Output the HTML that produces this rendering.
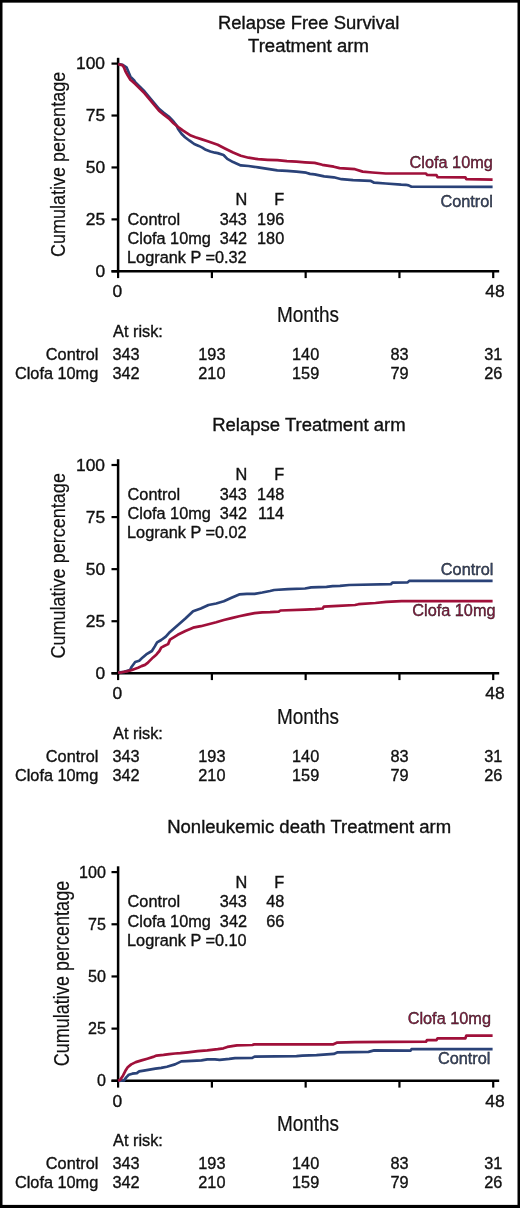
<!DOCTYPE html>
<html><head><meta charset="utf-8"><style>
html,body{margin:0;padding:0;background:#fff;}
svg{display:block;will-change:transform;}
svg{font-family:"Liberation Sans",sans-serif;fill:#111;}
text{stroke:#111;stroke-width:0.35px;}
.thin text{stroke-width:0.2px;}
</style></head><body>
<svg width="520" height="1208" viewBox="0 0 520 1208">
<rect x="0" y="0" width="520" height="1208" fill="#fff"/>
<text transform="translate(217.98 29.20) scale(1.0305 1)" font-size="17.90" fill="#111" stroke="#111">Relapse Free Survival</text>
<text transform="translate(248.08 51.80) scale(1.0352 1)" font-size="17.90" fill="#111" stroke="#111">Treatment arm</text>
<g class="thin"><text transform="translate(65.00 257.10) rotate(-90) scale(0.8718 1)" font-size="20.69">Cumulative percentage</text></g>
<path d="M118.10 57.80V272.50" stroke="#000" stroke-width="2.5" fill="none"/>
<path d="M111.5 271.30H499.2" stroke="#000" stroke-width="2.4" fill="none"/>
<path d="M111.5 271.30H118.10" stroke="#000" stroke-width="2.2"/>
<text transform="translate(95.38 276.95) scale(1.0500 1)" font-size="16.60" fill="#111" stroke="#111">0</text>
<path d="M111.5 219.38H118.10" stroke="#000" stroke-width="2.2"/>
<text transform="translate(85.75 225.03) scale(1.0500 1)" font-size="16.60" fill="#111" stroke="#111">25</text>
<path d="M111.5 167.45H118.10" stroke="#000" stroke-width="2.2"/>
<text transform="translate(85.71 173.10) scale(1.0500 1)" font-size="16.60" fill="#111" stroke="#111">50</text>
<path d="M111.5 115.53H118.10" stroke="#000" stroke-width="2.2"/>
<text transform="translate(85.75 121.18) scale(1.0500 1)" font-size="16.60" fill="#111" stroke="#111">75</text>
<path d="M111.5 63.60H118.10" stroke="#000" stroke-width="2.2"/>
<text transform="translate(75.99 69.25) scale(1.0500 1)" font-size="16.60" fill="#111" stroke="#111">100</text>
<path d="M118.10 271.30V278.10" stroke="#000" stroke-width="2.2"/>
<path d="M211.88 271.30V278.10" stroke="#000" stroke-width="2.2"/>
<path d="M305.66 271.30V278.10" stroke="#000" stroke-width="2.2"/>
<path d="M399.44 271.30V278.10" stroke="#000" stroke-width="2.2"/>
<path d="M493.22 271.30V278.10" stroke="#000" stroke-width="2.2"/>
<text transform="translate(112.54 297.20) scale(1.0500 1)" font-size="16.60" fill="#111" stroke="#111">0</text>
<text transform="translate(485.30 297.20) scale(1.0500 1)" font-size="16.60" fill="#111" stroke="#111">48</text>
<g class="thin"><text transform="translate(276.93 321.50) scale(0.8932 1)" font-size="21.24" fill="#111" stroke="#111">Months</text></g>
<path d="M118.1 64.0 L122.7 64.9 L126.5 67.3 L130.4 76.6 L134.2 80.4 L135.0 81.9 L139.8 86.7 L144.6 91.5 L149.4 97.3 L154.2 103.0 L159.0 108.8 L163.8 112.7 L168.7 116.5 L173.5 121.5 L176.5 125.4 L178.1 129.0 L181.5 133.7 L185.0 137.2 L189.6 140.7 L194.2 144.0 L198.8 145.9 L202.3 147.6 L205.8 149.8 L210.4 151.5 L215.0 152.7 L217.7 153.1 L223.5 155.0 L227.3 158.9 L233.1 162.1 L240.8 165.4 L248.5 166.0 L258.1 167.3 L267.7 168.9 L277.3 170.4 L286.9 170.8 L296.5 171.7 L306.2 172.7 L310.0 173.9 L314.6 174.4 L324.2 176.4 L333.8 177.3 L341.5 179.2 L353.1 180.2 L370.4 180.8 L374.2 182.7 L385.8 183.5 L401.2 184.6 L405.8 184.8 L408.7 185.4 L411.5 186.7 L492.6 186.9" stroke="#2a4278" stroke-width="2.7" fill="none" stroke-linejoin="round" stroke-linecap="butt"/>
<path d="M118.1 64.0 L122.7 65.4 L124.1 67.8 L125.6 71.7 L127.5 75.0 L130.4 79.8 L133.3 82.2 L135.0 83.8 L139.8 88.6 L144.6 93.4 L149.4 99.2 L154.2 104.9 L159.0 110.7 L163.8 114.6 L168.7 118.4 L173.5 123.2 L178.3 127.1 L183.1 130.6 L186.2 132.7 L190.8 135.6 L195.4 137.3 L201.2 139.1 L206.9 141.0 L212.7 143.1 L217.7 144.8 L225.4 148.7 L233.1 152.5 L240.8 155.8 L248.5 157.7 L258.1 159.2 L267.7 159.8 L277.3 160.2 L286.9 161.2 L296.5 161.7 L305.0 162.3 L314.6 162.9 L322.3 164.8 L333.8 166.7 L339.6 168.1 L355.0 169.2 L362.7 171.6 L372.3 172.5 L385.8 173.5 L400.0 173.5 L426.0 173.5 L426.9 174.8 L436.5 175.2 L437.5 177.1 L465.4 177.3 L466.3 179.2 L492.6 179.6" stroke="#a0103a" stroke-width="2.7" fill="none" stroke-linejoin="round" stroke-linecap="butt"/>
<text transform="translate(235.47 204.90) scale(1.0250 1)" font-size="15.90" fill="#111" stroke="#111">N</text>
<text transform="translate(274.31 204.90) scale(1.0250 1)" font-size="15.90" fill="#111" stroke="#111">F</text>
<text transform="translate(127.59 224.50) scale(1.0250 1)" font-size="15.90" fill="#111" stroke="#111">Control</text>
<text transform="translate(127.59 244.00) scale(1.0250 1)" font-size="15.90" fill="#111" stroke="#111">Clofa 10mg</text>
<text transform="translate(127.06 263.40) scale(1.0250 1)" font-size="15.90" fill="#111" stroke="#111">Logrank P =0.32</text>
<text transform="translate(219.72 224.50) scale(1.0250 1)" font-size="15.90" fill="#111" stroke="#111">343</text>
<text transform="translate(219.84 244.00) scale(1.0250 1)" font-size="15.90" fill="#111" stroke="#111">342</text>
<text transform="translate(257.12 224.50) scale(1.0250 1)" font-size="15.90" fill="#111" stroke="#111">196</text>
<text transform="translate(257.04 244.00) scale(1.0250 1)" font-size="15.90" fill="#111" stroke="#111">180</text>
<text transform="translate(409.60 168.30) scale(1.0250 1)" font-size="15.90" fill="#8a1a40" stroke="#8a1a40">Clofa 10mg</text>
<text transform="translate(440.44 207.30) scale(1.0250 1)" font-size="15.90" fill="#38486c" stroke="#38486c">Control</text>
<text transform="translate(113.06 337.20) scale(1.0250 1)" font-size="15.90" fill="#111" stroke="#111">At risk:</text>
<text transform="translate(45.84 360.00) scale(1.0250 1)" font-size="15.90" fill="#111" stroke="#111">Control</text>
<text transform="translate(15.00 379.20) scale(1.0250 1)" font-size="15.90" fill="#111" stroke="#111">Clofa 10mg</text>
<text transform="translate(112.49 360.00) scale(1.0250 1)" font-size="15.90" fill="#111" stroke="#111">343</text>
<text transform="translate(112.49 379.20) scale(1.0250 1)" font-size="15.90" fill="#111" stroke="#111">342</text>
<text transform="translate(198.28 360.00) scale(1.025 1)" font-size="15.9">193</text>
<text transform="translate(198.28 379.20) scale(1.025 1)" font-size="15.9">210</text>
<text transform="translate(292.06 360.00) scale(1.025 1)" font-size="15.9">140</text>
<text transform="translate(292.06 379.20) scale(1.025 1)" font-size="15.9">159</text>
<text transform="translate(390.38 360.00) scale(1.025 1)" font-size="15.9">83</text>
<text transform="translate(390.38 379.20) scale(1.025 1)" font-size="15.9">79</text>
<text transform="translate(484.16 360.00) scale(1.025 1)" font-size="15.9">31</text>
<text transform="translate(484.16 379.20) scale(1.025 1)" font-size="15.9">26</text>
<text transform="translate(212.17 431.00) scale(1.0349 1)" font-size="17.90" fill="#111" stroke="#111">Relapse Treatment arm</text>
<g class="thin"><text transform="translate(65.00 658.60) rotate(-90) scale(0.8723 1)" font-size="20.69">Cumulative percentage</text></g>
<path d="M118.10 459.20V674.50" stroke="#000" stroke-width="2.5" fill="none"/>
<path d="M111.5 673.30H499.2" stroke="#000" stroke-width="2.4" fill="none"/>
<path d="M111.5 673.30H118.10" stroke="#000" stroke-width="2.2"/>
<text transform="translate(95.38 678.95) scale(1.0500 1)" font-size="16.60" fill="#111" stroke="#111">0</text>
<path d="M111.5 621.22H118.10" stroke="#000" stroke-width="2.2"/>
<text transform="translate(85.75 626.87) scale(1.0500 1)" font-size="16.60" fill="#111" stroke="#111">25</text>
<path d="M111.5 569.15H118.10" stroke="#000" stroke-width="2.2"/>
<text transform="translate(85.71 574.80) scale(1.0500 1)" font-size="16.60" fill="#111" stroke="#111">50</text>
<path d="M111.5 517.08H118.10" stroke="#000" stroke-width="2.2"/>
<text transform="translate(85.75 522.73) scale(1.0500 1)" font-size="16.60" fill="#111" stroke="#111">75</text>
<path d="M111.5 465.00H118.10" stroke="#000" stroke-width="2.2"/>
<text transform="translate(75.99 470.65) scale(1.0500 1)" font-size="16.60" fill="#111" stroke="#111">100</text>
<path d="M118.10 673.30V680.10" stroke="#000" stroke-width="2.2"/>
<path d="M211.88 673.30V680.10" stroke="#000" stroke-width="2.2"/>
<path d="M305.66 673.30V680.10" stroke="#000" stroke-width="2.2"/>
<path d="M399.44 673.30V680.10" stroke="#000" stroke-width="2.2"/>
<path d="M493.22 673.30V680.10" stroke="#000" stroke-width="2.2"/>
<text transform="translate(112.54 699.20) scale(1.0500 1)" font-size="16.60" fill="#111" stroke="#111">0</text>
<text transform="translate(485.30 699.20) scale(1.0500 1)" font-size="16.60" fill="#111" stroke="#111">48</text>
<g class="thin"><text transform="translate(276.93 723.50) scale(0.8932 1)" font-size="21.24" fill="#111" stroke="#111">Months</text></g>
<path d="M118.1 672.6 L124.2 671.9 L130.0 670.1 L131.7 666.7 L135.2 662.0 L139.2 660.8 L142.7 657.4 L146.2 654.4 L151.9 651.0 L154.8 646.4 L157.1 642.4 L161.2 640.0 L165.8 636.6 L170.0 631.9 L177.7 625.2 L185.4 618.5 L193.1 611.2 L200.8 608.5 L208.5 605.0 L216.2 603.5 L223.8 601.2 L231.5 597.7 L239.2 594.4 L246.9 593.9 L254.6 593.8 L262.3 592.5 L270.0 591.0 L274.2 590.0 L288.1 589.2 L305.0 588.5 L311.2 587.4 L326.5 586.9 L332.7 586.2 L340.0 585.9 L349.2 585.0 L390.8 584.2 L392.3 582.7 L407.7 582.4 L409.2 580.9 L492.6 580.9" stroke="#2a4278" stroke-width="2.7" fill="none" stroke-linejoin="round" stroke-linecap="butt"/>
<path d="M118.1 672.6 L121.9 672.3 L126.5 671.4 L131.2 670.3 L134.6 669.0 L138.1 667.8 L141.5 666.1 L145.0 664.9 L147.3 663.2 L149.6 660.9 L153.1 657.4 L156.5 654.4 L159.4 651.0 L161.2 647.6 L164.6 645.8 L168.1 644.1 L170.0 639.6 L177.7 634.8 L185.4 631.0 L193.1 627.7 L200.8 626.2 L208.5 624.2 L216.2 622.3 L223.8 620.0 L231.5 618.1 L239.2 616.2 L246.9 614.6 L254.6 613.1 L262.3 612.3 L270.0 612.1 L278.8 611.6 L280.4 610.5 L305.0 609.6 L315.0 609.2 L322.7 608.5 L323.8 606.6 L338.1 605.8 L355.0 605.0 L358.5 604.2 L375.4 603.0 L386.2 601.9 L401.5 601.2 L492.6 601.2" stroke="#a0103a" stroke-width="2.7" fill="none" stroke-linejoin="round" stroke-linecap="butt"/>
<text transform="translate(235.47 479.90) scale(1.0250 1)" font-size="15.90" fill="#111" stroke="#111">N</text>
<text transform="translate(274.31 479.90) scale(1.0250 1)" font-size="15.90" fill="#111" stroke="#111">F</text>
<text transform="translate(127.59 499.50) scale(1.0250 1)" font-size="15.90" fill="#111" stroke="#111">Control</text>
<text transform="translate(127.59 519.00) scale(1.0250 1)" font-size="15.90" fill="#111" stroke="#111">Clofa 10mg</text>
<text transform="translate(127.06 538.40) scale(1.0250 1)" font-size="15.90" fill="#111" stroke="#111">Logrank P =0.02</text>
<text transform="translate(219.72 499.50) scale(1.0250 1)" font-size="15.90" fill="#111" stroke="#111">343</text>
<text transform="translate(219.84 519.00) scale(1.0250 1)" font-size="15.90" fill="#111" stroke="#111">342</text>
<text transform="translate(257.12 499.50) scale(1.0250 1)" font-size="15.90" fill="#111" stroke="#111">148</text>
<text transform="translate(258.09 519.00) scale(1.0250 1)" font-size="15.90" fill="#111" stroke="#111">114</text>
<text transform="translate(440.84 575.40) scale(1.0250 1)" font-size="15.90" fill="#38486c" stroke="#38486c">Control</text>
<text transform="translate(412.30 616.20) scale(1.0250 1)" font-size="15.90" fill="#8a1a40" stroke="#8a1a40">Clofa 10mg</text>
<text transform="translate(113.06 738.90) scale(1.0250 1)" font-size="15.90" fill="#111" stroke="#111">At risk:</text>
<text transform="translate(45.84 761.70) scale(1.0250 1)" font-size="15.90" fill="#111" stroke="#111">Control</text>
<text transform="translate(15.00 780.90) scale(1.0250 1)" font-size="15.90" fill="#111" stroke="#111">Clofa 10mg</text>
<text transform="translate(112.49 761.70) scale(1.0250 1)" font-size="15.90" fill="#111" stroke="#111">343</text>
<text transform="translate(112.49 780.90) scale(1.0250 1)" font-size="15.90" fill="#111" stroke="#111">342</text>
<text transform="translate(198.28 761.70) scale(1.025 1)" font-size="15.9">193</text>
<text transform="translate(198.28 780.90) scale(1.025 1)" font-size="15.9">210</text>
<text transform="translate(292.06 761.70) scale(1.025 1)" font-size="15.9">140</text>
<text transform="translate(292.06 780.90) scale(1.025 1)" font-size="15.9">159</text>
<text transform="translate(390.38 761.70) scale(1.025 1)" font-size="15.9">83</text>
<text transform="translate(390.38 780.90) scale(1.025 1)" font-size="15.9">79</text>
<text transform="translate(484.16 761.70) scale(1.025 1)" font-size="15.9">31</text>
<text transform="translate(484.16 780.90) scale(1.025 1)" font-size="15.9">26</text>
<text transform="translate(167.17 832.60) scale(1.0351 1)" font-size="17.90" fill="#111" stroke="#111">Nonleukemic death Treatment arm</text>
<g class="thin"><text transform="translate(68.80 1066.30) rotate(-90) scale(0.8281 1)" font-size="21.79">Cumulative percentage</text></g>
<path d="M118.10 866.30V1082.00" stroke="#000" stroke-width="2.5" fill="none"/>
<path d="M111.5 1080.80H499.2" stroke="#000" stroke-width="2.4" fill="none"/>
<path d="M111.5 1080.80H118.10" stroke="#000" stroke-width="2.2"/>
<text transform="translate(96.97 1086.45) scale(0.9700 1)" font-size="16.60" fill="#111" stroke="#111">0</text>
<path d="M111.5 1028.62H118.10" stroke="#000" stroke-width="2.2"/>
<text transform="translate(88.07 1034.28) scale(0.9700 1)" font-size="16.60" fill="#111" stroke="#111">25</text>
<path d="M111.5 976.45H118.10" stroke="#000" stroke-width="2.2"/>
<text transform="translate(88.03 982.10) scale(0.9700 1)" font-size="16.60" fill="#111" stroke="#111">50</text>
<path d="M111.5 924.27H118.10" stroke="#000" stroke-width="2.2"/>
<text transform="translate(88.07 929.92) scale(0.9700 1)" font-size="16.60" fill="#111" stroke="#111">75</text>
<path d="M111.5 872.10H118.10" stroke="#000" stroke-width="2.2"/>
<text transform="translate(79.05 877.75) scale(0.9700 1)" font-size="16.60" fill="#111" stroke="#111">100</text>
<path d="M118.10 1080.80V1087.60" stroke="#000" stroke-width="2.2"/>
<path d="M211.88 1080.80V1087.60" stroke="#000" stroke-width="2.2"/>
<path d="M305.66 1080.80V1087.60" stroke="#000" stroke-width="2.2"/>
<path d="M399.44 1080.80V1087.60" stroke="#000" stroke-width="2.2"/>
<path d="M493.22 1080.80V1087.60" stroke="#000" stroke-width="2.2"/>
<text transform="translate(112.54 1106.70) scale(1.0500 1)" font-size="16.60" fill="#111" stroke="#111">0</text>
<text transform="translate(485.30 1106.70) scale(1.0500 1)" font-size="16.60" fill="#111" stroke="#111">48</text>
<g class="thin"><text transform="translate(276.93 1131.00) scale(0.8932 1)" font-size="21.24" fill="#111" stroke="#111">Months</text></g>
<path d="M118.1 1080.8 L124.0 1080.4 L126.5 1077.1 L128.8 1074.8 L132.3 1073.7 L136.9 1073.1 L139.2 1071.4 L143.8 1070.6 L149.6 1069.6 L155.4 1068.7 L161.2 1067.9 L166.9 1066.7 L175.0 1064.4 L181.3 1061.4 L191.9 1060.8 L201.5 1060.4 L207.3 1059.4 L215.0 1059.4 L219.6 1059.8 L229.2 1058.9 L235.0 1058.1 L252.3 1057.9 L254.6 1056.6 L296.5 1056.2 L302.3 1055.6 L316.5 1055.2 L333.8 1053.9 L337.7 1052.3 L368.5 1051.9 L374.2 1050.4 L410.6 1050.6 L411.5 1049.1 L492.6 1049.1" stroke="#2a4278" stroke-width="2.7" fill="none" stroke-linejoin="round" stroke-linecap="butt"/>
<path d="M118.1 1080.8 L120.2 1079.8 L123.1 1075.4 L125.4 1070.8 L127.7 1067.3 L131.2 1064.4 L135.8 1062.1 L141.5 1060.4 L147.3 1058.7 L153.1 1056.9 L156.5 1055.6 L163.5 1054.9 L169.2 1054.1 L175.0 1053.5 L180.4 1053.1 L188.1 1052.3 L197.7 1051.2 L207.3 1050.4 L217.7 1049.2 L223.5 1048.3 L227.3 1046.9 L236.9 1045.4 L252.3 1045.0 L254.2 1044.4 L332.9 1044.4 L336.7 1042.7 L355.0 1042.1 L426.0 1041.7 L426.9 1040.2 L436.5 1040.2 L437.5 1038.3 L465.4 1038.3 L466.3 1035.6 L492.6 1035.6" stroke="#a0103a" stroke-width="2.7" fill="none" stroke-linejoin="round" stroke-linecap="butt"/>
<text transform="translate(235.47 887.80) scale(1.0250 1)" font-size="15.90" fill="#111" stroke="#111">N</text>
<text transform="translate(274.31 887.80) scale(1.0250 1)" font-size="15.90" fill="#111" stroke="#111">F</text>
<text transform="translate(127.59 907.40) scale(1.0250 1)" font-size="15.90" fill="#111" stroke="#111">Control</text>
<text transform="translate(127.59 926.90) scale(1.0250 1)" font-size="15.90" fill="#111" stroke="#111">Clofa 10mg</text>
<text transform="translate(127.06 946.30) scale(1.0250 1)" font-size="15.90" fill="#111" stroke="#111">Logrank P =0.10</text>
<text transform="translate(219.72 907.40) scale(1.0250 1)" font-size="15.90" fill="#111" stroke="#111">343</text>
<text transform="translate(219.84 926.90) scale(1.0250 1)" font-size="15.90" fill="#111" stroke="#111">342</text>
<text transform="translate(266.20 907.40) scale(1.0250 1)" font-size="15.90" fill="#111" stroke="#111">48</text>
<text transform="translate(266.20 926.90) scale(1.0250 1)" font-size="15.90" fill="#111" stroke="#111">66</text>
<text transform="translate(407.70 1024.00) scale(1.0250 1)" font-size="15.90" fill="#8a1a40" stroke="#8a1a40">Clofa 10mg</text>
<text transform="translate(437.94 1064.40) scale(1.0250 1)" font-size="15.90" fill="#38486c" stroke="#38486c">Control</text>
<text transform="translate(113.06 1146.40) scale(1.0250 1)" font-size="15.90" fill="#111" stroke="#111">At risk:</text>
<text transform="translate(45.84 1169.20) scale(1.0250 1)" font-size="15.90" fill="#111" stroke="#111">Control</text>
<text transform="translate(15.00 1188.40) scale(1.0250 1)" font-size="15.90" fill="#111" stroke="#111">Clofa 10mg</text>
<text transform="translate(112.49 1169.20) scale(1.0250 1)" font-size="15.90" fill="#111" stroke="#111">343</text>
<text transform="translate(112.49 1188.40) scale(1.0250 1)" font-size="15.90" fill="#111" stroke="#111">342</text>
<text transform="translate(198.28 1169.20) scale(1.025 1)" font-size="15.9">193</text>
<text transform="translate(198.28 1188.40) scale(1.025 1)" font-size="15.9">210</text>
<text transform="translate(292.06 1169.20) scale(1.025 1)" font-size="15.9">140</text>
<text transform="translate(292.06 1188.40) scale(1.025 1)" font-size="15.9">159</text>
<text transform="translate(390.38 1169.20) scale(1.025 1)" font-size="15.9">83</text>
<text transform="translate(390.38 1188.40) scale(1.025 1)" font-size="15.9">79</text>
<text transform="translate(484.16 1169.20) scale(1.025 1)" font-size="15.9">31</text>
<text transform="translate(484.16 1188.40) scale(1.025 1)" font-size="15.9">26</text>
<rect x="0" y="0" width="2.5" height="1208" fill="#000"/><rect x="517.5" y="0" width="2.5" height="1208" fill="#000"/><rect x="0" y="0" width="520" height="2.65" fill="#000"/><rect x="0" y="1204.9" width="520" height="3.1" fill="#000"/>
</svg>
</body></html>
